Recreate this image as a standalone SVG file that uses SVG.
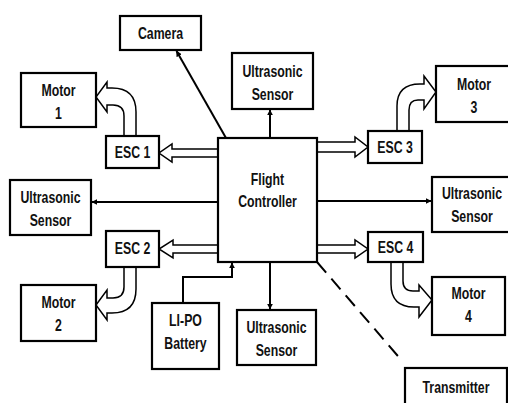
<svg xmlns="http://www.w3.org/2000/svg" width="508" height="403" viewBox="0 0 508 403">
<defs>
<style>
.box{fill:#fff;stroke:#000;stroke-width:2.2}
.t{font-family:"Liberation Sans",Arial,sans-serif;font-weight:bold;font-size:12.3px;text-anchor:middle;fill:#111}
.ln{stroke:#000;stroke-width:2;fill:none}
.blk{fill:#fff;stroke:#000;stroke-width:1.5;stroke-linejoin:miter}
.dash{stroke:#000;stroke-width:2;fill:none;stroke-dasharray:14 8}
</style>
<marker id="ah" viewBox="0 0 10 10" refX="9" refY="5" markerWidth="6" markerHeight="6" orient="auto" markerUnits="userSpaceOnUse">
<path d="M0,0 L10,5 L0,10 z" fill="#000"/>
</marker>
</defs>
<rect width="508" height="403" fill="#fff"/>

<g id="connectors">
<line class="ln" x1="226" y1="138" x2="176.5" y2="51" marker-end="url(#ah)"/>
<line class="ln" x1="270" y1="138" x2="270" y2="110" marker-end="url(#ah)"/>
<line class="ln" x1="218" y1="202" x2="92" y2="202" marker-end="url(#ah)"/>
<line class="ln" x1="317" y1="201" x2="431" y2="201" marker-end="url(#ah)"/>
<line class="ln" x1="270" y1="262" x2="270" y2="309" marker-end="url(#ah)"/>
<polyline class="ln" points="183,303 183,277 232,277 232,263" marker-end="url(#ah)"/>
<line class="dash" x1="317" y1="262" x2="403" y2="362"/>
<path class="blk" d="M218,149 H172 V144 L159,153 L172,162 V157 H218"/>
<path class="blk" d="M218,245 H173 V240 L159,249 L173,258 V253 H218"/>
<path class="blk" d="M317,142 H355 V137 L368,147 L355,157 V152 H317"/>
<path class="blk" d="M317,245 H355 V240 L368,249 L355,258 V253 H317"/>
<path class="blk" d="M124,136 V116 Q124,105 113,105 H107 V112 L96,97 L107,82 V88 H112 Q136,88 136,112 V136"/>
<path class="blk" d="M124,267 V287 Q124,298 113,298 H107 V290 L96,305 L107,320 V313 H112 Q136,313 136,289 V267"/>
<path class="blk" d="M409,131 V110 Q409,100 418,100 H424 V109 L436,92 L424,76 V84 H420 Q397,84 397,106 V131"/>
<path class="blk" d="M403,262 V281 Q403,291 413,291 H419 V285 L432,300 L419,317 V307 H414 Q391,307 391,284 V262"/>
</g>

<g id="camera"><rect class="box" x="120" y="16" width="81" height="34"/><text class="t" transform="translate(160.5,38.5) scale(1,1.28)">Camera</text></g>
<g id="motor1"><rect class="box" x="21" y="73" width="75" height="54"/><text class="t" transform="translate(58.5,96) scale(1,1.28)">Motor</text><text class="t" transform="translate(58.5,119) scale(1,1.28)">1</text></g>
<g id="esc1"><rect class="box" x="106" y="136" width="53" height="32"/><text class="t" transform="translate(132.5,157.5) scale(1,1.28)">ESC 1</text></g>
<g id="us-top"><rect class="box" x="232" y="53" width="81" height="56"/><text class="t" transform="translate(272.5,77) scale(1,1.28)">Ultrasonic</text><text class="t" transform="translate(272.5,100) scale(1,1.28)">Sensor</text></g>
<g id="fc"><rect class="box" x="218" y="138" width="99" height="124"/><text class="t" transform="translate(267.5,185) scale(1,1.28)">Flight</text><text class="t" transform="translate(267.5,207) scale(1,1.28)">Controller</text></g>
<g id="esc3"><rect class="box" x="368" y="131" width="54" height="32"/><text class="t" transform="translate(395,152.5) scale(1,1.28)">ESC 3</text></g>
<g id="motor3"><rect class="box" x="436" y="66" width="80" height="56"/><text class="t" transform="translate(474,90) scale(1,1.28)">Motor</text><text class="t" transform="translate(474,113) scale(1,1.28)">3</text></g>
<g id="us-left"><rect class="box" x="10" y="180" width="81" height="55"/><text class="t" transform="translate(50.5,203) scale(1,1.28)">Ultrasonic</text><text class="t" transform="translate(50.5,226) scale(1,1.28)">Sensor</text></g>
<g id="us-right"><rect class="box" x="432" y="177" width="80" height="55"/><text class="t" transform="translate(472,199) scale(1,1.28)">Ultrasonic</text><text class="t" transform="translate(472,222) scale(1,1.28)">Sensor</text></g>
<g id="esc2"><rect class="box" x="106" y="231" width="53" height="36"/><text class="t" transform="translate(132.5,254) scale(1,1.28)">ESC 2</text></g>
<g id="esc4"><rect class="box" x="368" y="232" width="55" height="30"/><text class="t" transform="translate(395.5,252.5) scale(1,1.28)">ESC 4</text></g>
<g id="motor2"><rect class="box" x="21" y="285" width="75" height="56"/><text class="t" transform="translate(58.5,308) scale(1,1.28)">Motor</text><text class="t" transform="translate(58.5,331) scale(1,1.28)">2</text></g>
<g id="battery"><rect class="box" x="152" y="303" width="67" height="66"/><text class="t" transform="translate(185.5,326) scale(1,1.28)">LI-PO</text><text class="t" transform="translate(185.5,349) scale(1,1.28)">Battery</text></g>
<g id="us-bottom"><rect class="box" x="237" y="310" width="79" height="55"/><text class="t" transform="translate(276.5,333) scale(1,1.28)">Ultrasonic</text><text class="t" transform="translate(276.5,356) scale(1,1.28)">Sensor</text></g>
<g id="motor4"><rect class="box" x="432" y="277" width="73" height="58"/><text class="t" transform="translate(468.5,299) scale(1,1.28)">Motor</text><text class="t" transform="translate(468.5,322) scale(1,1.28)">4</text></g>
<g id="transmitter"><rect class="box" x="405" y="368" width="102" height="45"/><text class="t" transform="translate(456,393) scale(1,1.28)">Transmitter</text></g>
</svg>
